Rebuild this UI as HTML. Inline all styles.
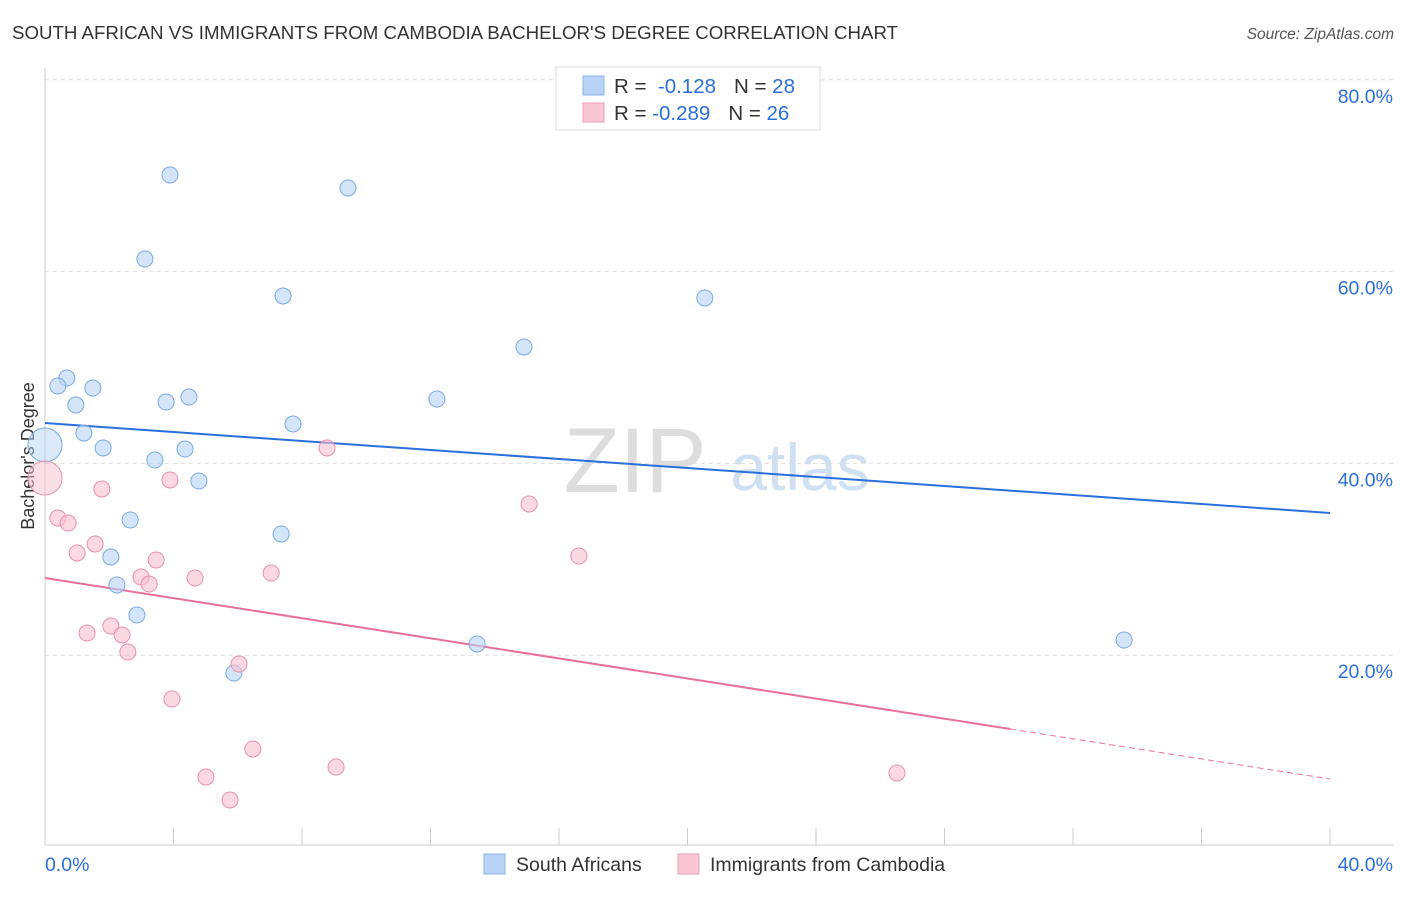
<!DOCTYPE html>
<html><head><meta charset="utf-8"><style>
body{margin:0;background:#fff;font-family:"Liberation Sans",sans-serif;}
svg text{font-family:"Liberation Sans",sans-serif;}
</style></head><body>
<svg id="chart" width="1406" height="892">
<text x="12" y="39" font-size="18" fill="#333" textLength="886" lengthAdjust="spacingAndGlyphs">SOUTH AFRICAN VS IMMIGRANTS FROM CAMBODIA BACHELOR'S DEGREE CORRELATION CHART</text>
<text x="1394" y="39" font-size="15.5" fill="#555" font-style="italic" text-anchor="end">Source: ZipAtlas.com</text>
<text x="635" y="492" font-size="92" fill="#ddd" font-family="Liberation Serif" text-anchor="middle">ZIP</text>
<text x="800" y="490" font-size="66" fill="#cfe0f3" text-anchor="middle">atlas</text>
<text transform="translate(34,456) rotate(-90)" font-size="18" fill="#333" text-anchor="middle">Bachelor's Degree</text>
<g id="grid"></g><g id="lines"></g><g id="pts"></g>
<g>
<rect x="556" y="67" width="264" height="63" fill="#fff" stroke="#ddd"/>
<rect x="583" y="76" width="21" height="19" fill="#b8d3f5" stroke="#8ab4e8"/>
<rect x="583" y="103" width="21" height="19" fill="#f8c6d4" stroke="#eb9cb4"/>
<text x="614" y="93" font-size="20.5" fill="#333">R = <tspan fill="#2a6fdb">&#160;-0.128</tspan><tspan dx="18">N = </tspan><tspan fill="#2a6fdb">28</tspan></text>
<text x="614" y="120" font-size="20.5" fill="#333">R = <tspan fill="#2a6fdb">-0.289</tspan><tspan dx="18">N = </tspan><tspan fill="#2a6fdb">26</tspan></text>
</g>
<g>
<rect x="484" y="854" width="21" height="20" fill="#b8d3f5" stroke="#8ab4e8"/>
<text x="516" y="871" font-size="19.5" fill="#333">South Africans</text>
<rect x="678" y="854" width="21" height="20" fill="#f8c6d4" stroke="#eb9cb4"/>
<text x="710" y="871" font-size="19.5" fill="#333">Immigrants from Cambodia</text>
</g>
</svg>
<script>
const xTicks=[0,40];
const yTicks=[20,40,60,80];
const blueX=[3.89,9.43,3.11,7.41,20.54,14.91,0.68,0.40,1.49,4.48,3.77,12.20,0.96,7.72,1.21,0,1.81,4.36,3.42,4.79,2.65,7.35,2.05,2.24,2.86,13.45,33.59,5.88];
const blueY=[70.07,68.72,61.31,57.46,57.25,52.14,48.90,48.07,47.86,46.92,46.40,46.72,46.09,44.11,43.17,41.92,41.61,41.50,40.35,38.16,34.10,32.64,30.24,27.32,24.19,21.17,21.58,18.14];
const pinkX=[0,0.40,0.72,1.77,8.78,3.89,15.07,1.56,1.00,3.46,16.62,2.99,3.24,4.67,7.04,1.31,2.05,2.40,2.58,6.04,3.95,6.47,5.01,9.06,26.52,5.76];
const pinkY=[38.48,34.31,33.78,37.33,41.61,38.27,35.77,31.60,30.66,29.93,30.34,28.15,27.42,28.05,28.57,22.31,23.04,22.11,20.33,19.08,15.43,10.22,7.30,8.34,7.72,4.90];
const blueTrend=[44.21,34.83];
const pinkTrend=[28.05,7.09];
const pinkSolidEnd=30.05;
const NS="http://www.w3.org/2000/svg";
const X=v=>45+v*32.125, Y=v=>847-v*9.59;
function mk(t,a,p){const e=document.createElementNS(NS,t);for(const k in a)e.setAttribute(k,a[k]);p.appendChild(e);return e;}
const g=document.getElementById('grid');
yTicks.forEach(t=>{
 const l=mk('line',{x1:45,x2:1393,y1:Y(t),y2:Y(t),stroke:'#ddd','stroke-dasharray':'4,4'},g);
 
 
 const tx=mk('text',{x:1393,y:Y(t)+23,'font-size':19.5,fill:'#2a6fdb','text-anchor':'end'},g);
 tx.textContent=t.toFixed(1)+'%';
 
 
});
mk('line',{x1:45,x2:45,y1:68,y2:845,stroke:'#ccc'},g);
mk('line',{x1:45,x2:1393,y1:845,y2:845,stroke:'#ccc'},g);
for(let i=0;i<=10;i++){mk('line',{x1:X(i*4),x2:X(i*4),y1:828,y2:845,stroke:'#ccc'},g);}
xTicks.forEach((t,i)=>{
 const tx=mk('text',{x:i?1393:45,y:871,'font-size':19.5,fill:'#2a6fdb','text-anchor':i?'end':'start'},g);
 tx.textContent=t.toFixed(1)+'%';
 
 
});
const L=document.getElementById('lines');
const bl=mk('line',{x1:X(0),y1:Y(blueTrend[0]),x2:X(40),y2:Y(blueTrend[1]),stroke:'#2a6fdb','stroke-width':2},L);


const pv=x=>pinkTrend[0]+(pinkTrend[1]-pinkTrend[0])*x/40;
const pl=mk('line',{x1:X(0),y1:Y(pv(0)),x2:X(pinkSolidEnd),y2:Y(pv(pinkSolidEnd)),stroke:'#e8709a','stroke-width':2},L);


const pd=mk('line',{x1:X(pinkSolidEnd),y1:Y(pv(pinkSolidEnd)),x2:X(40),y2:Y(pv(40)),stroke:'#e8709a','stroke-width':1,'stroke-dasharray':'6,4'},L);


const P=document.getElementById('pts');
function pts(xs,ys,fill,stroke,name){xs.forEach((x,i)=>{
 const big=x===0;
 const c=mk('circle',{cx:X(x),cy:Y(ys[i]),r:(big?17:8),fill:fill,'fill-opacity':(big?0.5:0.6),stroke:stroke,'stroke-width':1},P);
 
 
});}
pts(blueX,blueY,'#b8d3f5','#7aaae0','south-africans-point');
pts(pinkX,pinkY,'#f8c0d0','#e890aa','cambodia-point');
</script>
</body></html>
